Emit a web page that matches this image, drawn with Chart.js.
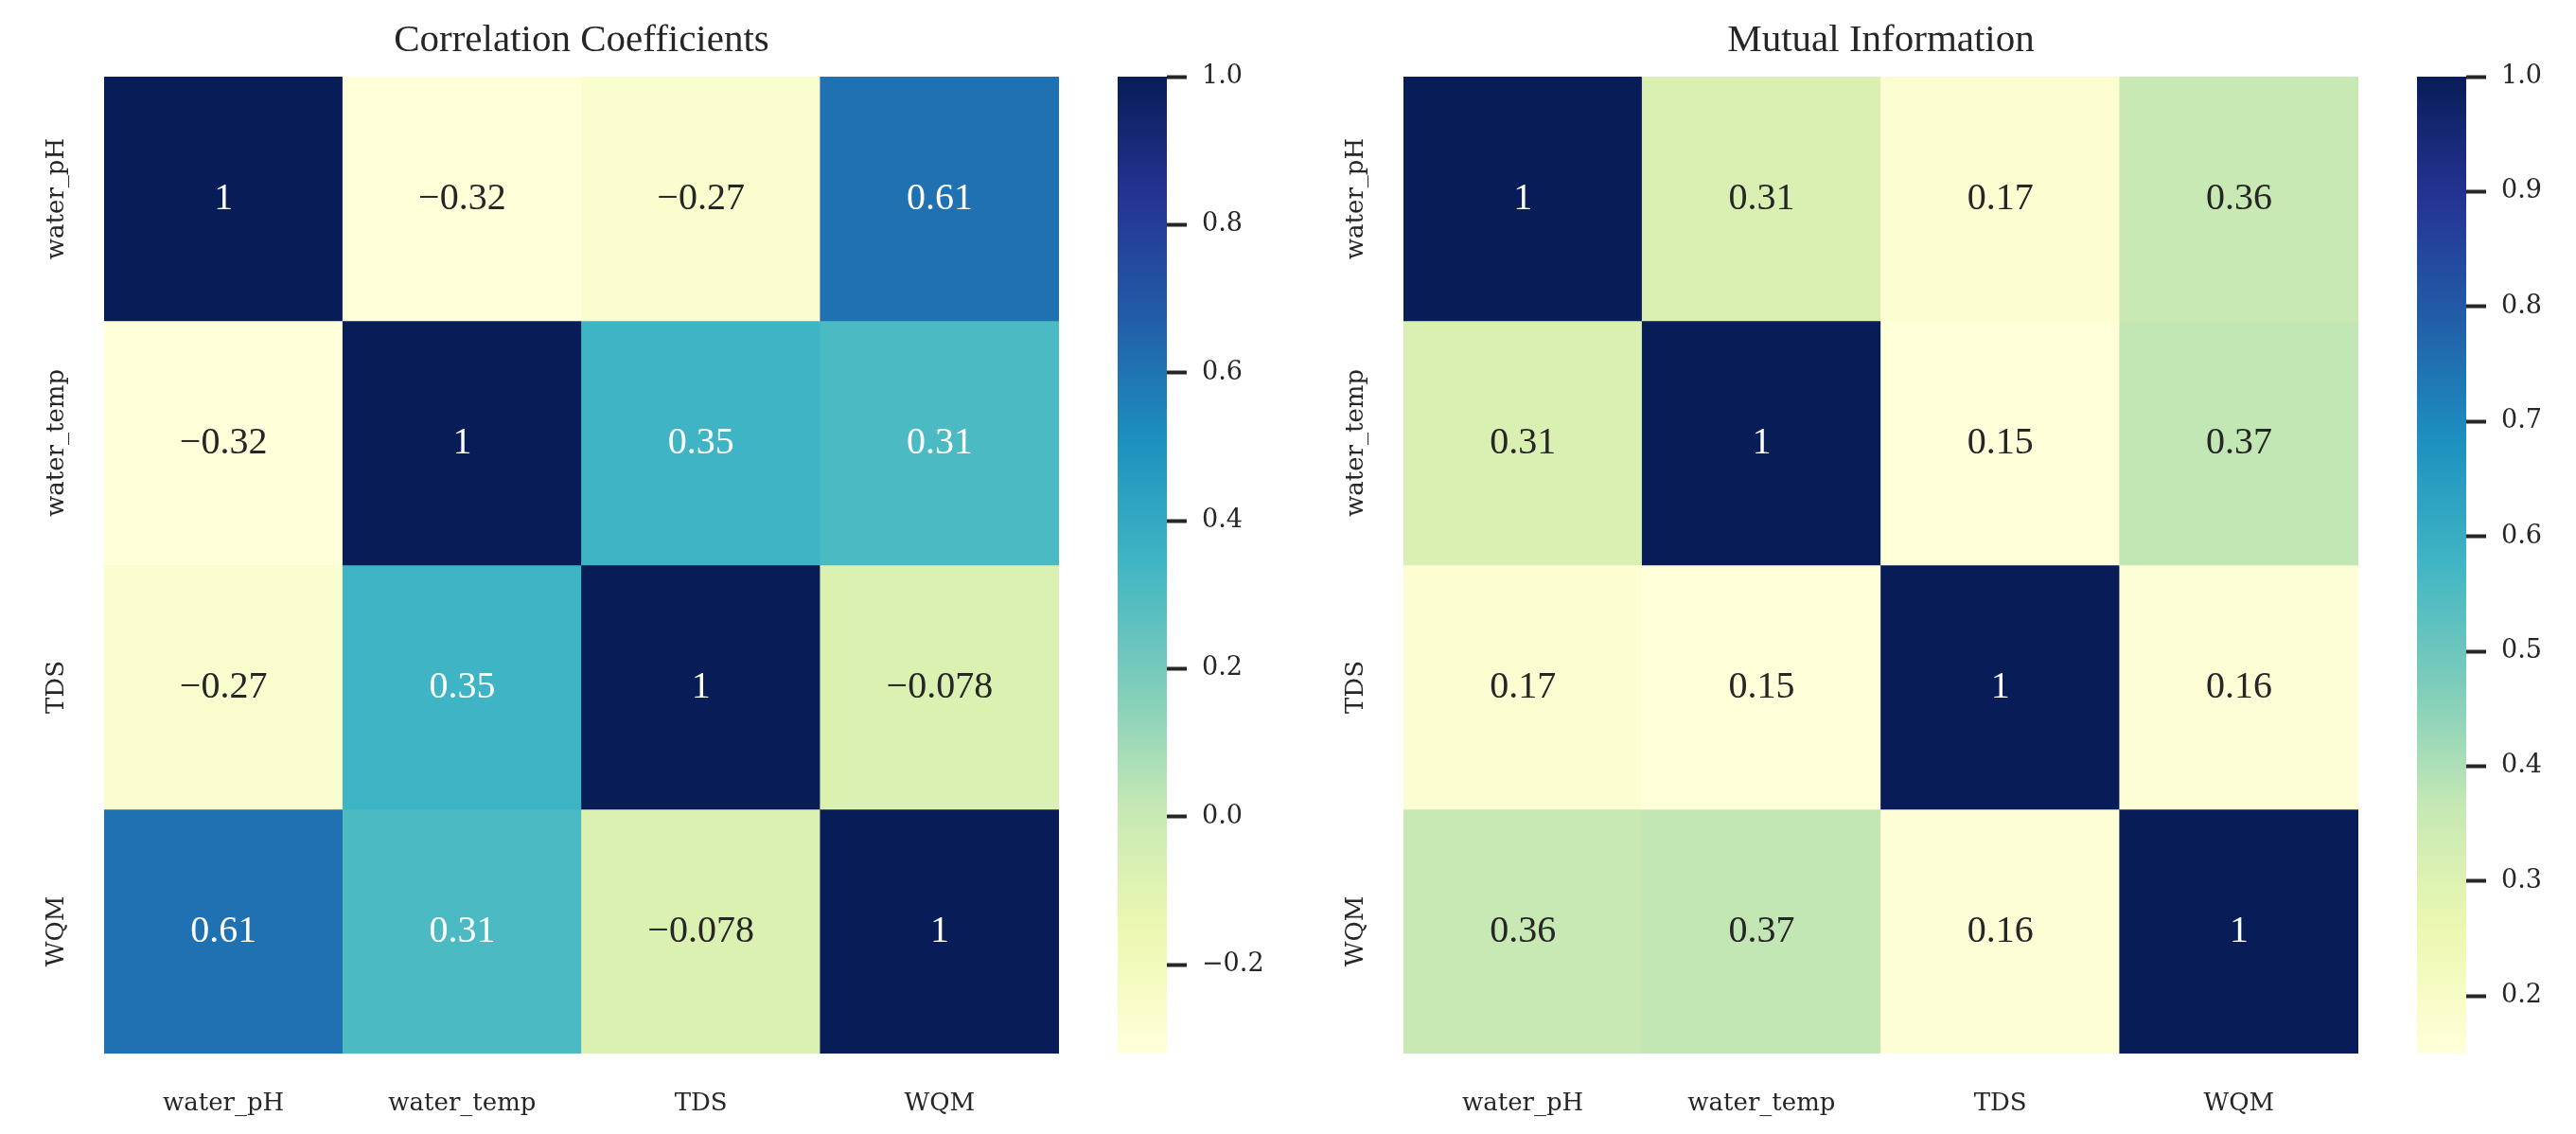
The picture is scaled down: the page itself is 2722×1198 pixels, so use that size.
<!DOCTYPE html>
<html>
<head>
<meta charset="utf-8">
<script src="https://cdn.jsdelivr.net/npm/chart.js@4"></script>
<style>
  html, body { margin: 0; padding: 0; background: #fff; }
  body { width: 2722px; height: 1198px; position: relative; overflow: hidden; }
  canvas { position: absolute; top: 0; }
</style>
</head>
<body>
<canvas id="corrMap" width="1160" height="1198" style="left:0px"></canvas>
<canvas id="corrBar" width="200" height="1198" style="left:1181px"></canvas>
<canvas id="miMap" width="1160" height="1198" style="left:1373px"></canvas>
<canvas id="miBar" width="160" height="1198" style="left:2554px"></canvas>
<script>
// variables, same order on both axes
const names = ['water_pH', 'water_temp', 'TDS', 'WQM'];

// correlation coefficients (rows top -> bottom)
const corrValues = [
    [1, -0.32, -0.27, 0.61],
    [-0.32, 1, 0.35, 0.31],
    [-0.27, 0.35, 1, -0.078],
    [0.61, 0.31, -0.078, 1]
];

// mutual information
const miValues = [
    [1, 0.31, 0.17, 0.36],
    [0.31, 1, 0.15, 0.37],
    [0.17, 0.15, 1, 0.16],
    [0.36, 0.37, 0.16, 1]
];

const corrTicks = [-0.2, 0, 0.2, 0.4, 0.6, 0.8, 1.0];
const miTicks = [0.2, 0.3, 0.4, 0.5, 0.6, 0.7, 0.8, 0.9, 1.0];

// YlGnBu colour stops
const ylgnbu = ['#ffffd9', '#edf8b1', '#c7e9b4', '#7fcdbb', '#41b6c4',
                '#1d91c0', '#225ea8', '#253494', '#081d58'];

const TEXT = '#262626';
const SERIF = "'Liberation Serif', 'DejaVu Serif', serif";
const TICKFONT = "'DejaVu Serif', serif";

function hexToRgb(h) {
    return [1, 3, 5].map(i => parseInt(h.slice(i, i + 2), 16));
}
const stopRgb = ylgnbu.map(hexToRgb);

function cmap(t) {
    t = Math.max(0, Math.min(1, t));
    const p = t * (stopRgb.length - 1);
    const i = Math.min(Math.floor(p), stopRgb.length - 2);
    const f = p - i;
    const a = stopRgb[i], b = stopRgb[i + 1];
    return a.map((c, k) => Math.round(c + (b[k] - c) * f));
}

function luminance(rgb) {
    const lin = rgb.map(c => {
        c /= 255;
        return c <= 0.03928 ? c / 12.92 : Math.pow((c + 0.055) / 1.055, 2.4);
    });
    return 0.2126 * lin[0] + 0.7152 * lin[1] + 0.0722 * lin[2];
}

function fmt(v) {
    const s = Number(v.toPrecision(2)).toString();
    return s.replace('-', '\u2212');
}

function heatmap(id, values, title) {
    const flat = values.flat();
    const vmin = Math.min(...flat), vmax = Math.max(...flat);
    const norm = v => (v - vmin) / (vmax - vmin);

    const datasets = values.map((row, r) => ({
        data: row.map(() => [r, r + 1]),
        backgroundColor: row.map(v => 'rgb(' + cmap(norm(v)).join(',') + ')'),
        borderWidth: 0,
        barPercentage: 1,
        categoryPercentage: 1,
        grouped: false
    }));

    const annotate = {
        id: 'annotate',
        afterDatasetsDraw(chart) {
            const ctx = chart.ctx;
            ctx.save();
            ctx.font = '40px ' + SERIF;
            ctx.textAlign = 'center';
            ctx.textBaseline = 'middle';
            chart.data.datasets.forEach((ds, r) => {
                chart.getDatasetMeta(r).data.forEach((bar, c) => {
                    const v = values[r][c];
                    ctx.fillStyle = luminance(cmap(norm(v))) > 0.408 ? TEXT : '#ffffff';
                    ctx.fillText(fmt(v), bar.x, (bar.y + bar.base) / 2);
                });
            });
            ctx.restore();
        }
    };

    const rowLabels = {
        id: 'rowLabels',
        afterDraw(chart) {
            const ctx = chart.ctx;
            const y = chart.scales.y;
            ctx.save();
            ctx.font = '26px ' + TICKFONT;
            ctx.fillStyle = TEXT;
            ctx.textAlign = 'center';
            ctx.textBaseline = 'middle';
            names.forEach((n, i) => {
                ctx.save();
                ctx.translate(60, y.getPixelForValue(i + 0.5));
                ctx.rotate(-Math.PI / 2);
                ctx.fillText(n, 0, 0);
                ctx.restore();
            });
            ctx.restore();
        }
    };

    return new Chart(document.getElementById(id), {
        type: 'bar',
        data: { labels: names, datasets },
        options: {
            responsive: false,
            animation: false,
            devicePixelRatio: 1,
            layout: { padding: { left: 0, right: 41, top: 0, bottom: 0 } },
            plugins: {
                legend: { display: false },
                tooltip: { enabled: false },
                title: {
                    display: true,
                    text: title,
                    fullSize: false,
                    color: TEXT,
                    font: { family: SERIF, size: 41, weight: 'normal', lineHeight: 1.2 },
                    padding: { top: 19, bottom: 12.8 }
                }
            },
            scales: {
                x: {
                    grid: { display: false, drawTicks: false },
                    border: { display: false },
                    ticks: { color: TEXT, font: { family: TICKFONT, size: 26 }, padding: 38, maxRotation: 0 },
                    afterFit: s => { s.height = 85; }
                },
                y: {
                    min: 0,
                    max: 4,
                    reverse: true,
                    grid: { display: false, drawTicks: false },
                    border: { display: false },
                    ticks: { display: false },
                    afterFit: s => { s.width = 110; }
                }
            }
        },
        plugins: [annotate, rowLabels]
    });
}

function colorbar(id, values, ticks) {
    const flat = values.flat();
    const vmin = Math.min(...flat), vmax = Math.max(...flat);
    const canvas = document.getElementById(id);

    return new Chart(canvas, {
        type: 'bar',
        data: {
            labels: [''],
            datasets: [{
                data: [[vmin, vmax]],
                borderWidth: 0,
                barPercentage: 1,
                categoryPercentage: 1,
                backgroundColor: c => {
                    const a = c.chart.chartArea;
                    if (!a) return ylgnbu[4];
                    const g = c.chart.ctx.createLinearGradient(0, a.bottom, 0, a.top);
                    ylgnbu.forEach((col, i) => g.addColorStop(i / (ylgnbu.length - 1), col));
                    return g;
                }
            }]
        },
        options: {
            responsive: false,
            animation: false,
            devicePixelRatio: 1,
            layout: { padding: { left: 0, right: 0, top: 81, bottom: 85 } },
            plugins: { legend: { display: false }, tooltip: { enabled: false } },
            scales: {
                x: { display: false },
                y: {
                    position: 'right',
                    min: vmin,
                    max: vmax,
                    afterBuildTicks: s => { s.ticks = ticks.map(v => ({ value: v })); },
                    grid: {
                        display: true,
                        drawOnChartArea: false,
                        drawTicks: true,
                        tickLength: 21,
                        tickWidth: 4,
                        tickColor: TEXT
                    },
                    border: { display: false },
                    ticks: {
                        color: TEXT,
                        padding: 16,
                        font: { family: TICKFONT, size: 27 },
                        callback: v => (v < 0 ? '\u2212' : '') + Math.abs(v).toFixed(1)
                    },
                    afterFit: s => { s.width = canvas.width - 52; }
                }
            }
        }
    });
}

heatmap('corrMap', corrValues, 'Correlation Coefficients');
colorbar('corrBar', corrValues, corrTicks);
heatmap('miMap', miValues, 'Mutual Information');
colorbar('miBar', miValues, miTicks);
</script>
</body>
</html>
